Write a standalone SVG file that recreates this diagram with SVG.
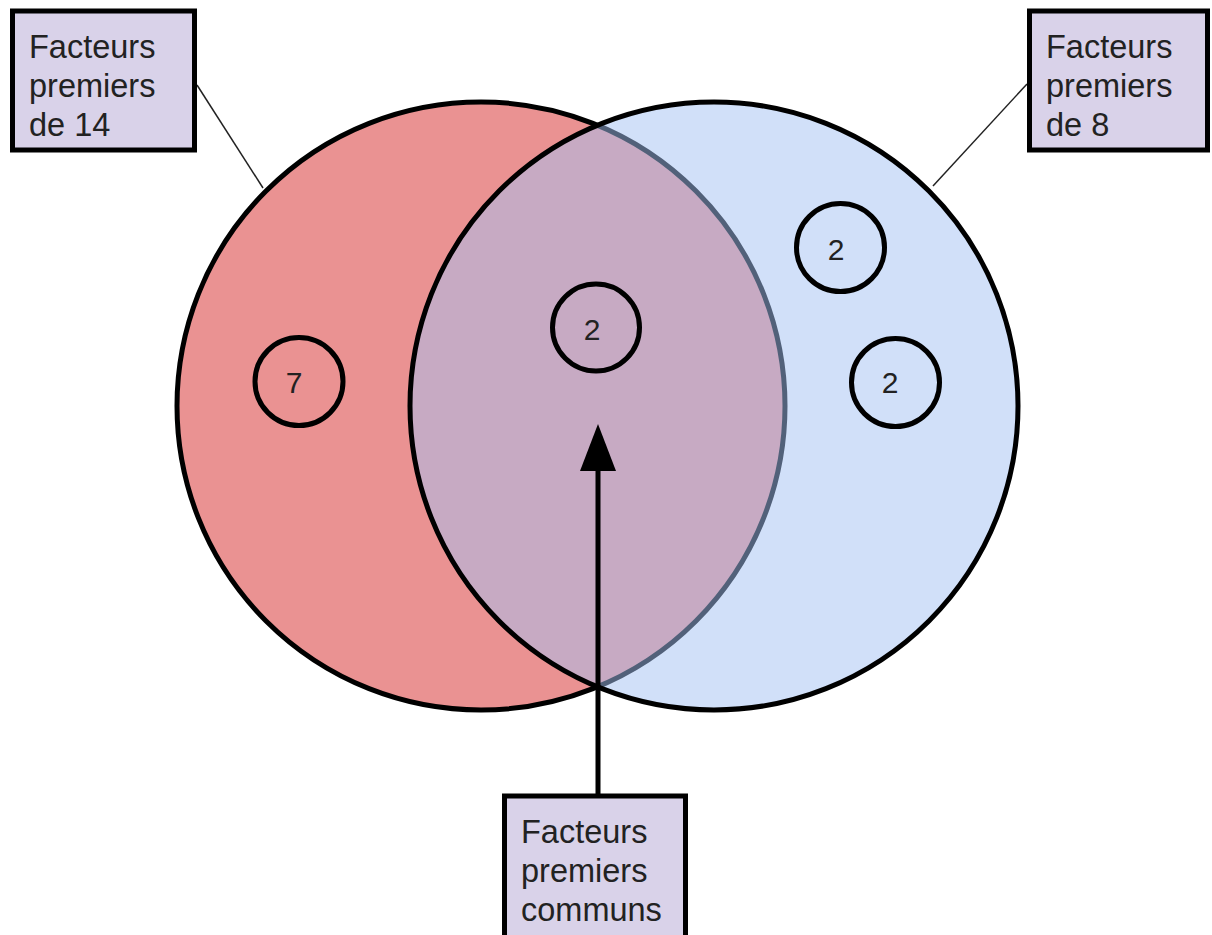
<svg xmlns="http://www.w3.org/2000/svg" width="1212" height="935" viewBox="0 0 1212 935">
<style>
.box{fill:#d9d2e9;stroke:#000;stroke-width:5}
.lbl{font-family:"Liberation Sans",Arial,sans-serif;font-size:32.5px;fill:#222}
.num{font-family:"Liberation Sans",Arial,sans-serif;font-size:30px;fill:#222;text-anchor:middle}
.elem{fill:none;stroke:#000;stroke-width:5}
.thin{stroke:#222;stroke-width:1.5;fill:none}
</style>
<rect width="1212" height="935" fill="#fff"/>
<g id="set14">
<circle cx="481" cy="406" r="304" fill="#ea9292" stroke="#000" stroke-width="5"/>
</g>
<g id="set8">
<circle cx="714" cy="406" r="304" fill="#a4c2f4" fill-opacity="0.5"/>
<circle cx="714" cy="406" r="304" fill="none" stroke="#000" stroke-width="5"/>
</g>
<g id="connectors">
<line class="thin" x1="197" y1="85" x2="263" y2="188"/>
<line class="thin" x1="1027" y1="84" x2="933" y2="186"/>
<line x1="598" y1="468" x2="598" y2="797" stroke="#000" stroke-width="5"/>
<polygon points="598,424 580,471 616,471" fill="#000"/>
</g>
<g id="e7">
<circle class="elem" cx="299" cy="381.5" r="44"/>
<text class="num" x="294" y="393">7</text>
</g>
<g id="e2common">
<circle class="elem" cx="596" cy="327.5" r="43.5"/>
<text class="num" x="592" y="340">2</text>
</g>
<g id="e2a">
<circle class="elem" cx="840.5" cy="247.5" r="44"/>
<text class="num" x="836" y="260">2</text>
</g>
<g id="e2b">
<circle class="elem" cx="895.5" cy="382.5" r="44"/>
<text class="num" x="890" y="393">2</text>
</g>
<g id="label14">
<rect class="box" x="12.5" y="11" width="182" height="139"/>
<text class="lbl" x="29" y="58">Facteurs</text>
<text class="lbl" x="29" y="97">premiers</text>
<text class="lbl" x="29" y="136">de 14</text>
</g>
<g id="label8">
<rect class="box" x="1029.5" y="11" width="178" height="139"/>
<text class="lbl" x="1046" y="58">Facteurs</text>
<text class="lbl" x="1046" y="97">premiers</text>
<text class="lbl" x="1046" y="136">de 8</text>
</g>
<g id="labelCommon">
<rect class="box" x="504.5" y="796" width="181" height="150"/>
<text class="lbl" x="521" y="843">Facteurs</text>
<text class="lbl" x="521" y="882">premiers</text>
<text class="lbl" x="521" y="921">communs</text>
</g>
</svg>
